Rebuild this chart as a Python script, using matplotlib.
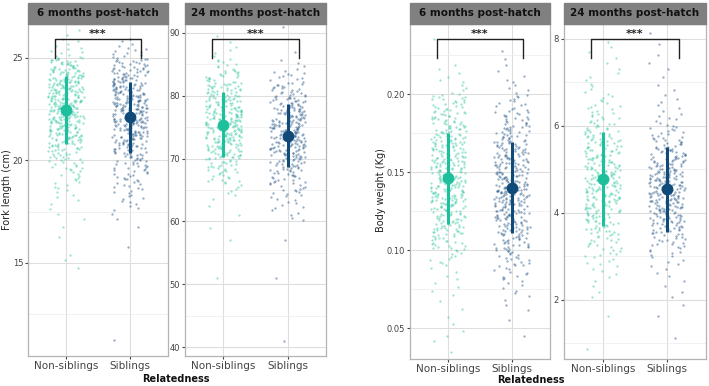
import numpy as np
import matplotlib.pyplot as plt
from matplotlib.patches import Rectangle

# groups on the x axis
groups = ['Non-siblings', 'Siblings']

# ---- fork length, 6 months (bins of 0.5 cm, lower edges) ----
fl6_edges = [11.0, 11.5, 12.0, 12.5, 13.0, 13.5, 14.0, 14.5, 15.0, 15.5, 16.0,
             16.5, 17.0, 17.5, 18.0, 18.5, 19.0, 19.5, 20.0, 20.5, 21.0, 21.5,
             22.0, 22.5, 23.0, 23.5, 24.0, 24.5, 25.0, 25.5, 26.0]
fl6_nonsib = [0, 0, 0, 0, 0, 0, 0, 1, 2, 0, 1, 1, 2, 2, 4, 6, 8, 12, 18, 24,
              32, 38, 42, 44, 42, 38, 34, 26, 8, 4, 2]
fl6_sib = [1, 0, 0, 0, 0, 0, 0, 0, 0, 1, 0, 1, 2, 5, 7, 10, 12, 16, 22, 28,
           34, 38, 40, 40, 36, 32, 26, 20, 10, 4, 0]

# ---- fork length, 24 months (bins of 2 cm) ----
fl24_edges = [40, 42, 44, 46, 48, 50, 52, 54, 56, 58, 60, 62, 64, 66, 68, 70,
              72, 74, 76, 78, 80, 82, 84, 86, 88, 90]
fl24_nonsib = [0, 0, 0, 0, 0, 1, 0, 0, 1, 1, 1, 2, 6, 14, 22, 34, 44, 48, 46,
               40, 32, 20, 10, 4, 2, 0]
fl24_sib = [1, 0, 0, 0, 0, 1, 0, 0, 1, 0, 5, 8, 14, 20, 28, 38, 44, 44, 38,
            30, 20, 12, 4, 1, 0, 1]

# ---- body weight, 6 months (bins of 0.01 kg) ----
bw6_edges = [0.03, 0.04, 0.05, 0.06, 0.07, 0.08, 0.09, 0.10, 0.11, 0.12, 0.13,
             0.14, 0.15, 0.16, 0.17, 0.18, 0.19, 0.20, 0.21, 0.22, 0.23]
bw6_nonsib = [1, 3, 2, 2, 4, 4, 10, 22, 32, 40, 46, 46, 44, 40, 34, 28, 22, 6,
              4, 0, 1]
bw6_sib = [0, 1, 1, 3, 6, 12, 18, 28, 36, 44, 48, 46, 42, 36, 28, 20, 12, 6,
           3, 2, 0]

# ---- body weight, 24 months (bins of 0.25 kg) ----
bw24_edges = [0.75, 1.0, 1.25, 1.5, 1.75, 2.0, 2.25, 2.5, 2.75, 3.0, 3.25, 3.5,
              3.75, 4.0, 4.25, 4.5, 4.75, 5.0, 5.25, 5.5, 5.75, 6.0, 6.25, 6.5,
              6.75, 7.0, 7.25, 7.5, 7.75, 8.0]
bw24_nonsib = [1, 0, 0, 1, 0, 2, 2, 4, 6, 10, 12, 18, 22, 26, 28, 28, 28, 26,
               24, 20, 16, 12, 9, 6, 4, 3, 2, 2, 2, 0]
bw24_sib = [0, 1, 0, 1, 1, 2, 2, 3, 5, 9, 14, 20, 26, 32, 34, 34, 32, 28, 22,
            16, 11, 6, 4, 3, 2, 1, 2, 1, 1, 1]

# means and mean +/- sd (non-siblings, siblings)
fl6_mean = [22.45, 22.1]
fl6_lo = [20.8, 20.35]
fl6_hi = [24.1, 23.8]
fl24_mean = [75.4, 73.65]
fl24_lo = [70.3, 68.6]
fl24_hi = [80.6, 78.7]
bw6_mean = [0.146, 0.140]
bw6_lo = [0.117, 0.111]
bw6_hi = [0.175, 0.169]
bw24_mean = [4.78, 4.55]
bw24_lo = [3.70, 3.56]
bw24_hi = [5.86, 5.52]

pt_cols = ['#3cc9a6', '#2f5f8c']
mean_cols = ['#1dbf9c', '#0f4a78']


def mix(v):
    # integer hash -> [0, 1), used only for the sideways jitter
    v = ((v ^ (v >> 16)) * 0x45d9f3b) & 0xffffffff
    v = ((v ^ (v >> 16)) * 0x45d9f3b) & 0xffffffff
    v = v ^ (v >> 16)
    return v / 2 ** 32


def strip(ax, edges, counts, xpos, col, seed):
    # spread each bin's points evenly inside the bin, jitter sideways
    step = edges[1] - edges[0]
    ys, xs = [], []
    i = 0
    for lo, n in zip(edges, counts):
        for k in range(n):
            ys.append(lo + (k + 0.5) / n * step)
            xs.append(xpos + (mix(seed * 7919 + i + 1) - 0.5) * 0.56)
            i += 1
    ax.scatter(xs, ys, s=2.8, color=col, alpha=0.5, linewidths=0, zorder=2)


def panel(ax, pid, title, edges, data, means, lows, highs, ylim, yticks,
          minor, br_y, br_tip):
    ax.set_facecolor('white')
    for j in range(2):
        strip(ax, edges, data[j], j + 1, pt_cols[j], pid * 2 + j)
        ax.plot([j + 1, j + 1], [lows[j], highs[j]], color=mean_cols[j],
                lw=2.2, zorder=3, solid_capstyle='butt')
        ax.scatter([j + 1], [means[j]], s=72, color=mean_cols[j], zorder=4,
                   linewidths=0)
    ax.plot([0.82, 0.82, 2.18, 2.18], [br_tip, br_y, br_y, br_tip],
            color='#222222', lw=1.0, zorder=5)
    ax.text(1.5, br_y, '***', ha='center', va='bottom', fontsize=8,
            fontweight='bold', color='#222222')
    ax.set_xlim(0.4, 2.6)
    ax.set_ylim(*ylim)
    ax.set_xticks([1, 2])
    ax.set_xticklabels(groups, fontsize=7.5, color='#222222')
    ax.set_yticks(yticks)
    ax.set_yticks(minor, minor=True)
    ax.tick_params(axis='y', labelsize=6, colors='#444444', length=2, pad=1.5)
    ax.tick_params(axis='x', length=2, colors='#444444', pad=1.5)
    ax.tick_params(axis='y', which='minor', length=0)
    ax.grid(True, which='major', color='#dedede', lw=0.8, zorder=0)
    ax.grid(True, which='minor', color='#ececec', lw=0.5, zorder=0)
    ax.set_axisbelow(True)
    for s in ax.spines.values():
        s.set_color('#b3b3b3')
        s.set_linewidth(0.9)
    # facet strip
    h = 21 / (ax.bbox.height)
    ax.add_patch(Rectangle((0, 1), 1, h, transform=ax.transAxes,
                           facecolor='#808080', edgecolor='#808080',
                           clip_on=False, zorder=5))
    ax.text(0.5, 1 + h / 2, title, transform=ax.transAxes, ha='center',
            va='center', fontsize=7.5, fontweight='bold', color='#111111',
            zorder=6)


fig = plt.figure(figsize=(7.09, 3.86), dpi=100)
W, H = 709, 386


def add(x0, x1, y0, y1):
    return fig.add_axes([x0 / W, 1 - y1 / H, (x1 - x0) / W, (y1 - y0) / H])


ax1 = add(28, 168, 24, 356)
ax2 = add(185, 326, 24, 356)
ax3 = add(410, 550, 24, 359)
ax4 = add(564, 706, 24, 359)

panel(ax1, 1, '6 months post-hatch', fl6_edges, [fl6_nonsib, fl6_sib],
      fl6_mean, fl6_lo, fl6_hi, (10.45, 26.65), [15, 20, 25],
      [12.5, 17.5, 22.5], 25.93, 25.0)
panel(ax2, 2, '24 months post-hatch', fl24_edges, [fl24_nonsib, fl24_sib],
      fl24_mean, fl24_lo, fl24_hi, (38.6, 91.4), [40, 50, 60, 70, 80, 90],
      [45, 55, 65, 75, 85], 89.05, 86.0)
panel(ax3, 3, '6 months post-hatch', bw6_edges, [bw6_nonsib, bw6_sib],
      bw6_mean, bw6_lo, bw6_hi, (0.0303, 0.2449), [0.05, 0.10, 0.15, 0.20],
      [0.075, 0.125, 0.175, 0.225], 0.2353, 0.2231)
panel(ax4, 4, '24 months post-hatch', bw24_edges, [bw24_nonsib, bw24_sib],
      bw24_mean, bw24_lo, bw24_hi, (0.64, 8.34), [2, 4, 6, 8],
      [1, 3, 5, 7], 8.0, 7.56)

ax3.yaxis.set_major_formatter(plt.FormatStrFormatter('%.2f'))

fig.text(7 / W, 1 - 190 / H, 'Fork length (cm)', rotation=90, ha='center',
         va='center', fontsize=7, color='#222222')
fig.text(381 / W, 1 - 190 / H, 'Body weight (Kg)', rotation=90, ha='center',
         va='center', fontsize=7, color='#222222')
fig.text(176 / W, 1 - 379 / H, 'Relatedness', ha='center', va='center',
         fontsize=7, fontweight='bold', color='#111111')
fig.text(531 / W, 1 - 380 / H, 'Relatedness', ha='center', va='center',
         fontsize=7, fontweight='bold', color='#111111')

fig.savefig('out.png', dpi=100)
